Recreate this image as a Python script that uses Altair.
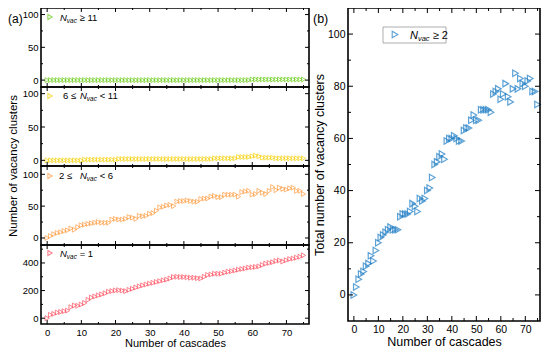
import altair as alt
import pandas as pd

FONT = "Liberation Sans"

cascades = list(range(76))

n_ge11 = [0, 0, 0, 0, 0, 0, 0, 0, 0, 0, 0, 0, 0, 0, 0, 0, 0, 0, 0, 0,
          0, 0, 0, 0, 0, 0, 0, 0, 0, 0, 0, 0, 0, 0, 0, 0, 0, 0, 0, 0,
          0, 0, 0, 0, 0, 0, 0, 0, 0, 0, 0, 0, 0, 0, 0, 0, 0, 0, 0, 0,
          1, 1, 1, 1, 1, 1, 1, 1, 1, 1, 1, 1, 1, 1, 1, 1]

n_6_11 = [0, 0, 0, 0, 0, 0, 0, 0, 0, 0, 0, 1, 1, 1, 1, 1, 1, 1, 1, 1,
          1, 2, 2, 2, 2, 2, 2, 2, 2, 2, 2, 2, 2, 2, 2, 2, 2, 2, 2, 2,
          2, 2, 2, 2, 2, 2, 2, 2, 2, 3, 3, 3, 3, 3, 3, 3, 5, 5, 5, 5,
          6, 7, 6, 4, 4, 4, 4, 3, 3, 3, 3, 3, 3, 3, 3, 3]

n_2_6 = [0, 3, 6, 8, 9, 11, 12, 15, 13, 17, 20, 21, 22, 23, 24, 25, 24, 24, 24, 29,
         30, 29, 29, 30, 33, 32, 30, 35, 34, 35, 38, 39, 43, 48, 49, 51, 52, 50, 57, 58,
         58, 59, 58, 57, 57, 61, 62, 62, 65, 66, 64, 64, 68, 68, 68, 68, 65, 72, 73, 74,
         68, 69, 74, 71, 69, 74, 80, 75, 79, 77, 76, 78, 79, 74, 74, 69]

n_eq1 = [0, 24, 31, 41, 45, 51, 55, 80, 92, 90, 99, 110, 133, 150, 157, 165, 172, 180, 192, 196,
         201, 203, 200, 196, 205, 213, 222, 230, 238, 244, 250, 256, 262, 268, 274, 279, 288, 298, 300, 298,
         298, 296, 293, 293, 290, 288, 300, 313, 316, 322, 322, 322, 330, 337, 340, 345, 351, 356, 360, 366,
         368, 371, 375, 385, 395, 400, 405, 414, 418, 410, 420, 428, 432, 438, 445, 455]

n_ge2 = [0, 3, 6, 8, 9, 11, 12, 15, 13, 17, 20, 22, 23, 24, 25, 26, 25, 25, 25, 30,
         31, 31, 31, 32, 35, 34, 32, 37, 36, 37, 40, 41, 45, 50, 51, 53, 54, 52, 59, 60,
         60, 61, 60, 59, 59, 63, 64, 64, 67, 69, 67, 67, 71, 71, 71, 71, 70, 77, 78, 79,
         75, 77, 81, 76, 74, 79, 85, 79, 83, 81, 80, 82, 83, 78, 78, 73]

x_major = [0, 10, 20, 30, 40, 50, 60, 70]
x_minor = [5, 15, 25, 35, 45, 55, 65, 75]

GREEN = "#66CC11"
YELLOW = "#F7D000"
ORANGE = "#FF9A3C"
RED = "#FF4D5E"
BLUE = "#1A7BC4"

CW, CH = 534, 340          # whole canvas
LX0, LX1 = 33, 301         # left plot column
LTOPS = [0, 79, 158, 237, 316]
RX0, RX1 = 340, 532        # right plot
RY0, RY1 = 0, 313

one = alt.Data(values=[{"a": 1}])


def sc(dom, rng):
    return alt.Scale(domain=dom, range=rng, nice=False, zero=False)


def txt(s, x, y, size=9.5, italic=False, angle=0, align="left", baseline="alphabetic"):
    return alt.Chart(one).mark_text(
        text=s, align=align, baseline=baseline, font=FONT, fontSize=size,
        fontStyle="italic" if italic else "normal", color="black", angle=angle
    ).encode(x=alt.value(x), y=alt.value(y))


def marker(x, y, color, size):
    return alt.Chart(one).mark_point(
        shape="triangle-right", filled=False, color=color, size=size, strokeWidth=1.1
    ).encode(x=alt.value(x), y=alt.value(y))


def nvac(x, y, size, prefix=None, suffix="", gap=0):
    parts = []
    cx = x
    if prefix:
        parts.append(txt(prefix, cx, y, size))
        cx += gap
    parts.append(txt("N", cx, y, size, italic=True))
    parts.append(txt("vac", cx + size * 0.72, y + 2, size * 0.68, italic=True))
    parts.append(txt(suffix, cx + size * 0.72 + size * 1.35, y, size))
    return parts


def panel(vals, color, msize, msw, xsc, ysc, xax, yax, x0, x1, y0, y1,
          ymaj, ymin, L=4, l=2):
    df = pd.DataFrame({"x": cascades, "y": vals})
    out = [alt.Chart(df).mark_point(
        shape="triangle-right", filled=False, color=color, size=msize, strokeWidth=msw
    ).encode(
        x=alt.X("x:Q", scale=xsc, axis=xax),
        y=alt.Y("y:Q", scale=ysc, axis=yax),
    )]
    for vs, ln in [(x_major, L), (x_minor, l)]:
        b = alt.Chart(pd.DataFrame({"x": vs})).mark_rule(color="black", strokeWidth=1)
        X = alt.X("x:Q", scale=xsc, axis=None)
        out.append(b.encode(x=X, y=alt.value(y1), y2=alt.value(y1 - ln)))
        out.append(b.encode(x=X, y=alt.value(y0), y2=alt.value(y0 + ln)))
    for vs, ln in [(ymaj, L), (ymin, l)]:
        b = alt.Chart(pd.DataFrame({"y": vs})).mark_rule(color="black", strokeWidth=1)
        Y = alt.Y("y:Q", scale=ysc, axis=None)
        out.append(b.encode(y=Y, x=alt.value(x0), x2=alt.value(x0 + ln)))
        out.append(b.encode(y=Y, x=alt.value(x1), x2=alt.value(x1 - ln)))
    out.append(alt.Chart(one).mark_rect(fillOpacity=0, stroke="black", strokeWidth=1.6).encode(
        x=alt.value(x0), x2=alt.value(x1), y=alt.value(y0), y2=alt.value(y1)))
    return out


def left_yaxis(vals):
    return alt.Axis(orient="left", offset=-LX0, values=vals, ticks=False, domain=False,
                    grid=False, labelFontSize=9.5, labelPadding=3, title=None)


xs_left = [-1.8, 76.6]
left_specs = [
    (n_ge11, GREEN, [-10.5, 110], [0, 50, 100], [25, 75]),
    (n_6_11, YELLOW, [-8.5, 110], [0, 50, 100], [25, 75]),
    (n_2_6, ORANGE, [-11, 113], [0, 50, 100], [25, 75]),
    (n_eq1, RED, [-42, 530], [0, 200, 400], [100, 300, 500]),
]

layers = []
for i, (vals, color, ydom, ymaj, ymin) in enumerate(left_specs):
    y0, y1 = LTOPS[i], LTOPS[i + 1]
    if i == 3:
        xax = alt.Axis(orient="bottom", offset=y1 - CH, values=x_major, ticks=False,
                       domain=False, grid=False, labelFontSize=9.5, labelPadding=3,
                       title="Number of cascades", titleFontSize=11, titlePadding=1,
                       titleFontWeight="normal")
    else:
        xax = None
    layers += panel(vals, color, 24, 1, sc(xs_left, [LX0, LX1]), sc(ydom, [y1, y0]),
                    xax, left_yaxis(ymaj), LX0, LX1, y0, y1, ymaj, ymin)

# in-panel legends of (a)
layers += [marker(LX0 + 9, LTOPS[0] + 9, GREEN, 24)] + nvac(LX0 + 19, LTOPS[0] + 12.5, 9.5, suffix="≥ 11")
layers += [marker(LX0 + 9, LTOPS[1] + 9, YELLOW, 24)] + nvac(LX0 + 22, LTOPS[1] + 12, 9.5, prefix="6 ≤", gap=17, suffix="< 11")
layers += [marker(LX0 + 9, LTOPS[2] + 10, ORANGE, 24)] + nvac(LX0 + 18, LTOPS[2] + 13, 9.5, prefix="2 ≤", gap=21, suffix="< 6")
layers += [marker(LX0 + 9, LTOPS[3] + 8, RED, 24)] + nvac(LX0 + 19, LTOPS[3] + 11.5, 9.5, suffix="= 1")
layers += [txt("(a)", 0, 15, 12),
           txt("Number of vacancy clusters", 6, (LTOPS[0] + LTOPS[4]) / 2, 11.5,
               angle=270, align="center", baseline="middle")]

# panel (b)
xax_r = alt.Axis(orient="bottom", offset=RY1 - CH, values=x_major, ticks=False, domain=False,
                 grid=False, labelFontSize=10.5, labelPadding=3, title="Number of cascades",
                 titleFontSize=12.5, titlePadding=1, titleFontWeight="normal")
yax_r = alt.Axis(orient="left", offset=-RX0, values=[0, 20, 40, 60, 80, 100], ticks=False,
                 domain=False, grid=False, labelFontSize=10.5, labelPadding=3,
                 title="Total number of vacancy clusters", titleFontSize=12.5, titlePadding=1,
                 titleFontWeight="normal")
layers += panel(n_ge2, BLUE, 42, 1.2, sc([-2.4, 76], [RX0, RX1]), sc([-10, 110], [RY1, RY0]),
                xax_r, yax_r, RX0, RX1, RY0, RY1,
                [0, 20, 40, 60, 80, 100], [10, 30, 50, 70, 90], L=5, l=3)
layers += [alt.Chart(one).mark_rect(fill="white", stroke="#9a9a9a", strokeWidth=0.8).encode(
               x=alt.value(RX0 + 35), x2=alt.value(RX0 + 98), y=alt.value(19), y2=alt.value(35)),
           marker(RX0 + 47, 26.5, BLUE, 42),
           txt("(b)", RX0 - 35, 15, 12.5)]
layers += nvac(RX0 + 62, 30.5, 11, suffix="≥ 2")

chart = alt.layer(*layers).resolve_scale(x="independent", y="independent").resolve_axis(
    x="independent", y="independent"
).properties(
    width=CW, height=CH, padding=0, autosize=alt.AutoSizeParams(type="none")
).configure_view(stroke=None).configure_axis(
    labelFont=FONT, titleFont=FONT, labelColor="black", titleColor="black"
)

chart.save("out.html", embed_options={"renderer": "svg", "actions": False})
